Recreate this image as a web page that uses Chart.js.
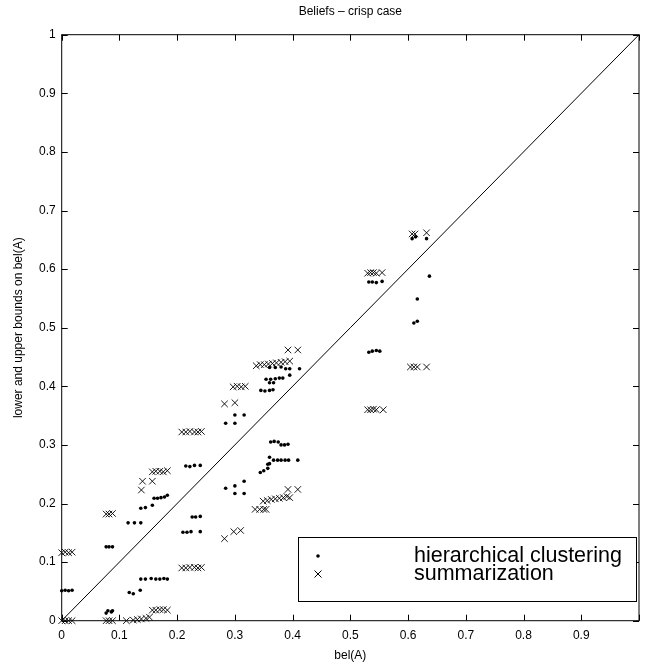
<!DOCTYPE html>
<html lang="en">
<head>
    <meta charset="UTF-8">
    <title>Beliefs - crisp case</title>
    <script src="https://cdn.jsdelivr.net/npm/chart.js"></script>
    <style>
        html, body { margin: 0; padding: 0; background: #fff; }
        canvas { display: block; }
    </style>
</head>
<body>
    <canvas id="beliefChart" width="647" height="669"></canvas>

    <script>
        // hierarchical clustering (dots)
        const hierX = [0, 0.006, 0.012, 0.018,
            0.077, 0.082, 0.088,
            0.077, 0.080, 0.086, 0.088,
            0.117, 0.124, 0.136,
            0.137, 0.145, 0.155, 0.163, 0.170, 0.177, 0.183,
            0.115, 0.126, 0.137,
            0.137, 0.145, 0.157,
            0.160, 0.166, 0.172, 0.178, 0.183,
            0.210, 0.217, 0.224, 0.240,
            0.226, 0.232, 0.240,
            0.215, 0.222, 0.230, 0.240,
            0.284, 0.300, 0.316, 0.300, 0.316,
            0.284, 0.300, 0.300, 0.316,
            0.344, 0.350, 0.357, 0.357, 0.360,
            0.360, 0.367, 0.374, 0.380, 0.387, 0.393, 0.409,
            0.362, 0.368, 0.375, 0.380, 0.386, 0.392,
            0.345, 0.352, 0.360, 0.366,
            0.354, 0.362, 0.370, 0.377, 0.383,
            0.360, 0.367,
            0.360, 0.370, 0.380,
            0.388, 0.395, 0.412, 0.395,
            0.532, 0.538, 0.545, 0.555,
            0.532, 0.538, 0.545, 0.551,
            0.616, 0.610, 0.616, 0.637,
            0.607, 0.613, 0.632];
        const hierY = [0.051, 0.052, 0.051, 0.052,
            0.126, 0.126, 0.126,
            0.013, 0.017, 0.015, 0.017,
            0.048, 0.046, 0.052,
            0.071, 0.071, 0.072, 0.071, 0.071, 0.072, 0.071,
            0.167, 0.167, 0.167,
            0.192, 0.193, 0.197,
            0.209, 0.209, 0.210, 0.211, 0.214,
            0.151, 0.151, 0.152, 0.152,
            0.177, 0.177, 0.178,
            0.264, 0.263, 0.265, 0.265,
            0.226, 0.230, 0.238, 0.217, 0.217,
            0.337, 0.337, 0.351, 0.351,
            0.253, 0.256, 0.260, 0.267, 0.268,
            0.279, 0.274, 0.274, 0.274, 0.274, 0.274, 0.274,
            0.305, 0.306, 0.305, 0.300, 0.300, 0.301,
            0.393, 0.392, 0.393, 0.394,
            0.412, 0.412, 0.413, 0.414, 0.414,
            0.406, 0.406,
            0.432, 0.432, 0.433,
            0.430, 0.430, 0.430, 0.419,
            0.578, 0.578, 0.577, 0.579,
            0.458, 0.460, 0.461, 0.460,
            0.549, 0.508, 0.511, 0.588,
            0.652, 0.655, 0.652];

        // summarization (crosses)
        const summX = [0, 0.006, 0.012, 0.018,
            0, 0.006, 0.012, 0.018,
            0.077, 0.082, 0.088,
            0.077, 0.082, 0.088,
            0.112, 0.124, 0.131, 0.138, 0.146, 0.152,
            0.157, 0.163, 0.170, 0.176, 0.183,
            0.208, 0.215, 0.222, 0.230, 0.236, 0.242,
            0.138, 0.140, 0.157,
            0.157, 0.163, 0.170, 0.176, 0.183,
            0.208, 0.215, 0.222, 0.230, 0.236, 0.242,
            0.282, 0.300,
            0.297, 0.304, 0.311, 0.318,
            0.337, 0.344, 0.351, 0.358, 0.365, 0.372, 0.380, 0.387, 0.395,
            0.392, 0.409,
            0.335, 0.343, 0.350, 0.354,
            0.349, 0.356, 0.363, 0.370, 0.377, 0.384, 0.390, 0.395,
            0.392, 0.409,
            0.282, 0.298, 0.310,
            0.530, 0.535, 0.540, 0.545, 0.555,
            0.530, 0.535, 0.540, 0.545, 0.557,
            0.604, 0.610, 0.616, 0.632,
            0.607, 0.612, 0.632];
        const summY = [0, 0, 0, 0,
            0.116, 0.117, 0.116, 0.117,
            0.182, 0.182, 0.183,
            0, 0, 0,
            0, 0.001, 0.002, 0.003, 0.004, 0.006,
            0.018, 0.018, 0.019, 0.019, 0.018,
            0.090, 0.090, 0.091, 0.091, 0.090, 0.091,
            0.223, 0.238, 0.238,
            0.254, 0.255, 0.255, 0.254, 0.256,
            0.322, 0.322, 0.323, 0.322, 0.322, 0.323,
            0.370, 0.372,
            0.399, 0.400, 0.399, 0.400,
            0.435, 0.437, 0.437, 0.438, 0.439, 0.440, 0.441, 0.442, 0.443,
            0.462, 0.462,
            0.190, 0.190, 0.190, 0.190,
            0.204, 0.205, 0.207, 0.208, 0.209, 0.210, 0.212, 0.210,
            0.224, 0.224,
            0.140, 0.152, 0.154,
            0.593, 0.594, 0.594, 0.593, 0.594,
            0.360, 0.360, 0.361, 0.360, 0.360,
            0.433, 0.433, 0.433, 0.433,
            0.660, 0.660, 0.662];

        // reference line bel = bounds
        const diagX = [0, 1];
        const diagY = [0, 1];

        const xTicks = [0, 0.1, 0.2, 0.3, 0.4, 0.5, 0.6, 0.7, 0.8, 0.9, 1];
        const yTicks = [0, 0.1, 0.2, 0.3, 0.4, 0.5, 0.6, 0.7, 0.8, 0.9, 1];

        const legendLabels = ["hierarchical clustering", "summarization"];

        const FONT = "'Liberation Sans', Arial, Helvetica, sans-serif";
        const toPoints = (xs, ys) => xs.map((x, i) => ({ x, y: ys[i] }));

        // box + inward ticks like matlab axes
        const boxTicks = {
            id: "boxTicks",
            afterDraw(chart) {
                const { ctx, chartArea: a, scales } = chart;
                const len = 6;
                ctx.save();
                ctx.strokeStyle = "#000";
                ctx.lineWidth = 1;
                ctx.strokeRect(a.left, a.top, a.right - a.left, a.bottom - a.top);
                ctx.beginPath();
                xTicks.forEach(v => {
                    const px = Math.round(scales.x.getPixelForValue(v)) + 0.5;
                    ctx.moveTo(px, a.bottom); ctx.lineTo(px, a.bottom - len);
                    ctx.moveTo(px, a.top); ctx.lineTo(px, a.top + len);
                });
                yTicks.forEach(v => {
                    const py = Math.round(scales.y.getPixelForValue(v)) + 0.5;
                    ctx.moveTo(a.left, py); ctx.lineTo(a.left + len, py);
                    ctx.moveTo(a.right, py); ctx.lineTo(a.right - len, py);
                });
                ctx.stroke();
                ctx.restore();
            }
        };

        // legend box inside the axes, lower right
        const boxLegend = {
            id: "boxLegend",
            afterDraw(chart) {
                const ctx = chart.ctx;
                const L = 298, T = 537, R = 636, B = 601;
                const mx = 318, tx = 414, rows = [556, 574];
                ctx.save();
                ctx.fillStyle = "#fff";
                ctx.fillRect(L, T, R - L, B - T);
                ctx.strokeStyle = "#000";
                ctx.lineWidth = 1;
                ctx.strokeRect(L + 0.5, T + 0.5, R - L, B - T);

                ctx.fillStyle = "#000";
                ctx.beginPath();
                ctx.arc(mx, rows[0], 1.8, 0, Math.PI * 2);
                ctx.fill();

                const d = 3.5;
                ctx.beginPath();
                ctx.moveTo(mx - d, rows[1] - d); ctx.lineTo(mx + d, rows[1] + d);
                ctx.moveTo(mx - d, rows[1] + d); ctx.lineTo(mx + d, rows[1] - d);
                ctx.stroke();

                ctx.font = "21.5px " + FONT;
                ctx.textBaseline = "middle";
                ctx.textAlign = "left";
                legendLabels.forEach((t, i) => ctx.fillText(t, tx, rows[i]));
                ctx.restore();
            }
        };

        new Chart(document.getElementById("beliefChart"), {
            type: "scatter",
            data: {
                datasets: [
                    {
                        label: legendLabels[0],
                        data: toPoints(hierX, hierY),
                        pointStyle: "circle",
                        pointRadius: 1.8,
                        pointBackgroundColor: "#000",
                        pointBorderWidth: 0,
                        clip: false
                    },
                    {
                        label: legendLabels[1],
                        data: toPoints(summX, summY),
                        pointStyle: "crossRot",
                        pointRadius: 4.6,
                        pointBorderColor: "#000",
                        pointBorderWidth: 0.9,
                        clip: false
                    },
                    {
                        label: "diagonal",
                        data: toPoints(diagX, diagY),
                        showLine: true,
                        borderColor: "#000",
                        borderWidth: 1,
                        pointRadius: 0
                    }
                ]
            },
            options: {
                responsive: false,
                animation: false,
                layout: { padding: { top: 0, left: 0, right: 1, bottom: 0 } },
                plugins: {
                    legend: { display: false },
                    tooltip: { enabled: false },
                    title: {
                        display: true,
                        text: "Beliefs \u2013 crisp case",
                        fullSize: false,
                        color: "#000",
                        font: { family: FONT, size: 12, weight: "normal" },
                        padding: { top: 4, bottom: 16.3 }
                    }
                },
                scales: {
                    x: {
                        type: "linear",
                        min: 0, max: 1,
                        afterFit: s => { s.height = 48.3; },
                        afterBuildTicks: s => { s.ticks = xTicks.map(v => ({ value: v })); },
                        grid: { display: false, drawTicks: false },
                        border: { display: false },
                        ticks: {
                            color: "#000",
                            padding: 8,
                            autoSkip: false,
                            maxRotation: 0,
                            font: { family: FONT, size: 12 },
                            callback: v => v === 1 ? "" : String(+v.toFixed(1))
                        },
                        title: {
                            display: true,
                            text: "bel(A)",
                            color: "#000",
                            font: { family: FONT, size: 12 },
                            padding: { top: 0, bottom: 6 }
                        }
                    },
                    y: {
                        type: "linear",
                        min: 0, max: 1,
                        afterFit: s => { s.width = 61.7; },
                        afterBuildTicks: s => { s.ticks = yTicks.map(v => ({ value: v })); },
                        grid: { display: false, drawTicks: false },
                        border: { display: false },
                        ticks: {
                            color: "#000",
                            padding: 6,
                            autoSkip: false,
                            font: { family: FONT, size: 12 },
                            callback: v => String(+v.toFixed(1))
                        },
                        title: {
                            display: true,
                            text: "lower and upper bounds on bel(A)",
                            color: "#000",
                            font: { family: FONT, size: 12 },
                            padding: { top: 11, bottom: 0 }
                        }
                    }
                }
            },
            plugins: [boxTicks, boxLegend]
        });
    </script>
</body>
</html>
